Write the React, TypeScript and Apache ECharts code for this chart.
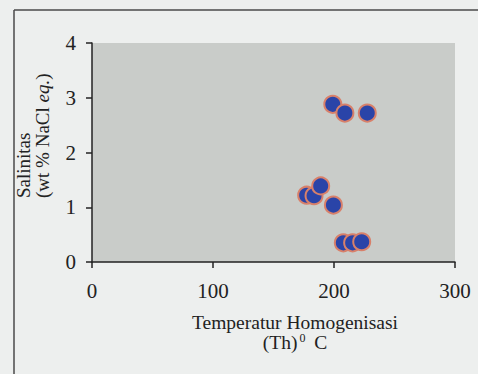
import React, { useEffect, useRef } from "react";
import * as echarts from "echarts";

const temperature = [199, 209, 227.5, 177.4, 183.5, 189, 199.5, 207.7, 215.4, 222.9];
const salinity = [2.88, 2.72, 2.72, 1.22, 1.21, 1.39, 1.04, 0.35, 0.35, 0.37];
const xTicks = [0, 100, 200, 300];
const yTicks = [0, 1, 2, 3, 4];

const FONT = "'Liberation Serif', 'Times New Roman', serif";

export default function App() {
  const ref = useRef<HTMLDivElement>(null);
  useEffect(() => {
    if (!ref.current) return;
    const chart = echarts.init(ref.current, null, { renderer: "svg" });
    const points = temperature.map((t, i) => [t, salinity[i]]);
    chart.setOption({
      animation: false,
      backgroundColor: "#edefee",
      grid: {
        left: 92,
        right: 23,
        top: 43,
        bottom: 112,
        show: true,
        backgroundColor: "#c9ccc9",
        borderWidth: 0,
      },
      xAxis: {
        type: "value",
        min: xTicks[0],
        max: xTicks[xTicks.length - 1],
        interval: 100,
        splitLine: { show: false },
        axisLine: { show: true, onZero: false, lineStyle: { color: "#222", width: 1.5 } },
        axisTick: { show: true, inside: false, length: 6, lineStyle: { color: "#222", width: 1.5 } },
        axisLabel: { fontFamily: FONT, fontSize: 21, color: "#222", margin: 18 },
      },
      yAxis: {
        type: "value",
        min: yTicks[0],
        max: yTicks[yTicks.length - 1],
        interval: 1,
        splitLine: { show: false },
        axisLine: { show: true, onZero: false, lineStyle: { color: "#222", width: 1.5 } },
        axisTick: { show: true, inside: false, length: 6, lineStyle: { color: "#222", width: 1.5 } },
        axisLabel: { fontFamily: FONT, fontSize: 21, color: "#222", margin: 16 },
      },
      series: [
        {
          type: "scatter",
          data: points,
          symbol: "circle",
          symbolSize: 17,
          itemStyle: {
            color: "#2a44a8",
            borderColor: "#d8806a",
            borderWidth: 2,
            opacity: 1,
          },
        },
      ],
      graphic: [
        {
          type: "line",
          shape: { x1: 14, y1: 10, x2: 478, y2: 10 },
          style: { stroke: "#4a4a4a", lineWidth: 1.5 },
        },
        {
          type: "line",
          shape: { x1: 14, y1: 10, x2: 14, y2: 374 },
          style: { stroke: "#4a4a4a", lineWidth: 1.5 },
        },
        {
          type: "text",
          x: 14,
          y: 198,
          rotation: Math.PI / 2,
          style: {
            text: "{a|Salinitas}\n{a|(wt % NaCl }{b|eq.}{a|)}",
            align: "left",
            verticalAlign: "top",
            fill: "#222",
            rich: {
              a: { fontFamily: FONT, fontSize: 19, lineHeight: 19, fill: "#222" },
              b: { fontFamily: FONT, fontSize: 19, lineHeight: 19, fontStyle: "italic", fill: "#222" },
            },
          },
        },
        {
          type: "text",
          x: 295,
          y: 312,
          style: {
            text: "{a|Temperatur Homogenisasi}\n{a|(Th)}{s|0}{a| C}",
            align: "center",
            verticalAlign: "top",
            fill: "#222",
            rich: {
              a: { fontFamily: FONT, fontSize: 19.5, lineHeight: 20, fill: "#222" },
              s: { fontFamily: FONT, fontSize: 12, lineHeight: 20, verticalAlign: "top", padding: [0, 4, 0, 2], fill: "#222" },
            },
          },
        },
      ],
    });
    return () => chart.dispose();
  }, []);
  return (
    <div
      ref={ref}
      style={{ position: "fixed", left: 0, top: 0, width: 478, height: 374 }}
    />
  );
}
